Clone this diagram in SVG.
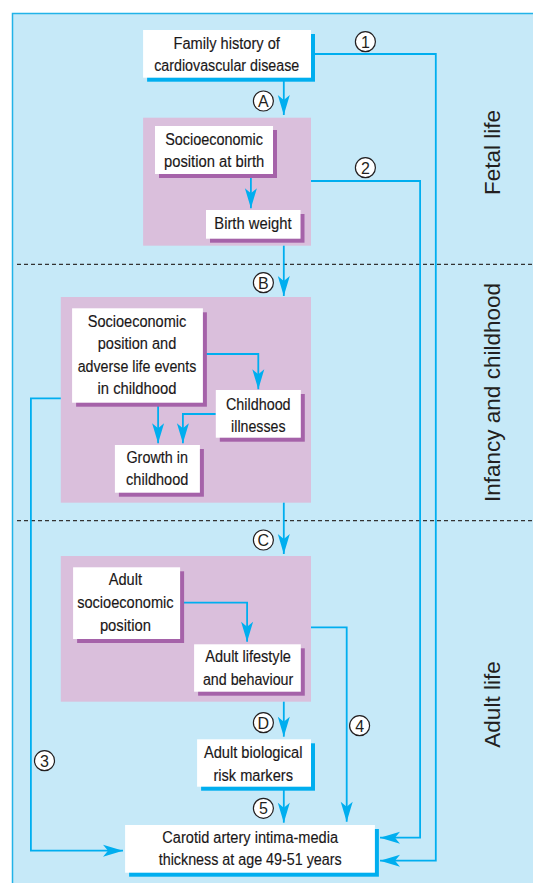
<svg xmlns="http://www.w3.org/2000/svg" width="533" height="883" viewBox="0 0 533 883">
<style>
  .bg{fill:#c6e9f8;stroke:#22b3e8;stroke-width:1.5}
  .zone{fill:#dabfdc}
  .box{fill:#ffffff}
  .shp{fill:#a562a9}
  .shb{fill:#00aeef}
  .dash{stroke:#333;stroke-width:1.3;stroke-dasharray:4 3;fill:none}
  .t{font-family:"Liberation Sans Narrow","Liberation Sans",Arial,sans-serif;font-size:16px;fill:#1a1718;stroke:#1a1718;stroke-width:0.15;text-anchor:middle}
  .side{font-family:"Liberation Sans",Arial,sans-serif;font-size:22.5px;fill:#231f20;text-anchor:middle}
  .c circle{fill:#fff;stroke:#231f20;stroke-width:1.2}
  .c text{font-family:"Liberation Sans",Arial,sans-serif;font-size:16px;fill:#231f20;text-anchor:middle}
  .ln{fill:none;stroke:#00aeef;stroke-width:1.8}
  .ar{marker-end:url(#ah)}
</style>
<defs>
  <marker id="ah" viewBox="-21 -7 22 14" refX="0" refY="0" markerWidth="22" markerHeight="14" markerUnits="userSpaceOnUse" orient="auto">
    <path d="M0,0 L-20,-6 L-15,0 L-20,6 Z" fill="#00aeef"/>
  </marker>
</defs>

<rect class="bg" x="12.5" y="13.5" width="530" height="880"/>

<g id="zones">
  <rect class="zone" x="143.1" y="117.7" width="167.9" height="128"/>
  <rect class="zone" x="60.8" y="297" width="250.2" height="205.7"/>
  <rect class="zone" x="60.8" y="556" width="250.2" height="145.7"/>
</g>

<g id="dividers">
  <line class="dash" x1="17" y1="264.3" x2="533" y2="264.3"/>
  <line class="dash" x1="17" y1="520.7" x2="533" y2="520.7"/>
</g>

<g id="period-labels">
  <text class="side" transform="translate(499.5,152.5) rotate(-90)">Fetal life</text>
  <text class="side" transform="translate(499.5,392.5) rotate(-90)">Infancy and childhood</text>
  <text class="side" transform="translate(499.5,704.5) rotate(-90)">Adult life</text>
</g>

<g id="connectors">
  <path class="ln ar" d="M311,54 H435.8 V860.7 H380"/>
  <path class="ln ar" d="M311,181 H420.1 V837.7 H380"/>
  <path class="ln ar" d="M60.8,398.3 H30.9 V850.7 H123"/>
  <path class="ln ar" d="M311,627.3 H346.7 V821.7"/>
  <path class="ln ar" d="M283.8,77.7 V115"/>
  <path class="ln ar" d="M283.8,245.7 V296"/>
  <path class="ln ar" d="M283.8,502.7 V554"/>
  <path class="ln ar" d="M283.8,701.7 V736.7"/>
  <path class="ln ar" d="M283.8,786.7 V822.7"/>
  <path class="ln ar" d="M250.9,174 V208.3"/>
  <path class="ln ar" d="M205,354 H258.3 V389.3"/>
  <path class="ln ar" d="M158.1,404 V443.3"/>
  <path class="ln ar" d="M215.8,414 H182.9 V443.3"/>
  <path class="ln ar" d="M182,602.7 H247.1 V641.7"/>
</g>

<g id="n-family">
  <rect class="shb" x="147.1" y="34" width="167.9" height="47.7"/>
  <rect class="box" x="143.1" y="30" width="167.9" height="47.7"/>
  <text class="t" x="226.7" y="48.5" textLength="106.4" lengthAdjust="spacingAndGlyphs">Family history of</text>
  <text class="t" x="226.7" y="71" textLength="145.1" lengthAdjust="spacingAndGlyphs">cardiovascular disease</text>
</g>

<g id="n-ses-birth">
  <rect class="shp" x="159" y="130" width="118" height="48"/>
  <rect class="box" x="155" y="126" width="118" height="48"/>
  <text class="t" x="214.1" y="144.5" textLength="97.9" lengthAdjust="spacingAndGlyphs">Socioeconomic</text>
  <text class="t" x="214.1" y="166.5" textLength="100.3" lengthAdjust="spacingAndGlyphs">position at birth</text>
</g>

<g id="n-birthweight">
  <rect class="shp" x="210" y="214" width="94.5" height="28.7"/>
  <rect class="box" x="206" y="210" width="94.5" height="28.7"/>
  <text class="t" x="252.9" y="229" textLength="77.2" lengthAdjust="spacingAndGlyphs">Birth weight</text>
</g>

<g id="n-ses-child">
  <rect class="shp" x="76.1" y="312.3" width="130.8" height="94.4"/>
  <rect class="box" x="72.1" y="308.3" width="130.8" height="94.4"/>
  <text class="t" x="137" y="326.7" textLength="98.6" lengthAdjust="spacingAndGlyphs">Socioeconomic</text>
  <text class="t" x="137" y="349.2" textLength="78.5" lengthAdjust="spacingAndGlyphs">position and</text>
  <text class="t" x="137" y="371.7" textLength="118.6" lengthAdjust="spacingAndGlyphs">adverse life events</text>
  <text class="t" x="137" y="394.2" textLength="78.9" lengthAdjust="spacingAndGlyphs">in childhood</text>
</g>

<g id="n-illness">
  <rect class="shp" x="219.8" y="394" width="85" height="47.7"/>
  <rect class="box" x="215.8" y="390" width="85" height="47.7"/>
  <text class="t" x="258.3" y="409.5" textLength="64.6" lengthAdjust="spacingAndGlyphs">Childhood</text>
  <text class="t" x="258.3" y="431.7" textLength="54.4" lengthAdjust="spacingAndGlyphs">illnesses</text>
</g>

<g id="n-growth">
  <rect class="shp" x="118.9" y="449" width="85" height="47.7"/>
  <rect class="box" x="114.9" y="445" width="85" height="47.7"/>
  <text class="t" x="157.2" y="462.7" textLength="61.5" lengthAdjust="spacingAndGlyphs">Growth in</text>
  <text class="t" x="157.2" y="485" textLength="62.2" lengthAdjust="spacingAndGlyphs">childhood</text>
</g>

<g id="n-ses-adult">
  <rect class="shp" x="77.1" y="571.3" width="107" height="71.7"/>
  <rect class="box" x="73.1" y="567.3" width="107" height="71.7"/>
  <text class="t" x="125.4" y="585.3" textLength="33.3" lengthAdjust="spacingAndGlyphs">Adult</text>
  <text class="t" x="125.4" y="608" textLength="96.5" lengthAdjust="spacingAndGlyphs">socioeconomic</text>
  <text class="t" x="125.4" y="630.7" textLength="51" lengthAdjust="spacingAndGlyphs">position</text>
</g>

<g id="n-lifestyle">
  <rect class="shp" x="198.1" y="648.3" width="106.7" height="47.4"/>
  <rect class="box" x="194.1" y="644.3" width="106.7" height="47.4"/>
  <text class="t" x="248.1" y="662.2" textLength="85.7" lengthAdjust="spacingAndGlyphs">Adult lifestyle</text>
  <text class="t" x="248.1" y="685.2" textLength="90.4" lengthAdjust="spacingAndGlyphs">and behaviour</text>
</g>

<g id="n-bio">
  <rect class="shb" x="201.1" y="743.3" width="113.9" height="47.4"/>
  <rect class="box" x="197.1" y="739.3" width="113.9" height="47.4"/>
  <text class="t" x="253.2" y="758.3" textLength="98.6" lengthAdjust="spacingAndGlyphs">Adult biological</text>
  <text class="t" x="253.2" y="780.7" textLength="79.5" lengthAdjust="spacingAndGlyphs">risk markers</text>
</g>

<g id="n-cimt">
  <rect class="shb" x="129.1" y="829" width="249.8" height="47.7"/>
  <rect class="box" x="125.1" y="825" width="249.8" height="47.7"/>
  <text class="t" x="250.2" y="843.3" textLength="175.7" lengthAdjust="spacingAndGlyphs">Carotid artery intima-media</text>
  <text class="t" x="250.2" y="865" textLength="182.9" lengthAdjust="spacingAndGlyphs">thickness at age 49-51 years</text>
</g>

<g id="labels" class="c">
  <g><circle cx="365.4" cy="41.7" r="10"/><text x="365.4" y="47.5">1</text></g>
  <g><circle cx="365.4" cy="167.7" r="10"/><text x="365.4" y="173.5">2</text></g>
  <g><circle cx="44.5" cy="760.7" r="10"/><text x="44.5" y="766.5">3</text></g>
  <g><circle cx="359.6" cy="725.7" r="10"/><text x="359.6" y="731.5">4</text></g>
  <g><circle cx="263.4" cy="808.3" r="10"/><text x="263.4" y="814.1">5</text></g>
  <g><circle cx="263.4" cy="101" r="10"/><text x="263.4" y="106.8">A</text></g>
  <g><circle cx="263.4" cy="282.7" r="10"/><text x="263.4" y="288.5">B</text></g>
  <g><circle cx="263.4" cy="540" r="10"/><text x="263.4" y="545.8">C</text></g>
  <g><circle cx="263.4" cy="722.7" r="10"/><text x="263.4" y="728.5">D</text></g>
</g>
</svg>
